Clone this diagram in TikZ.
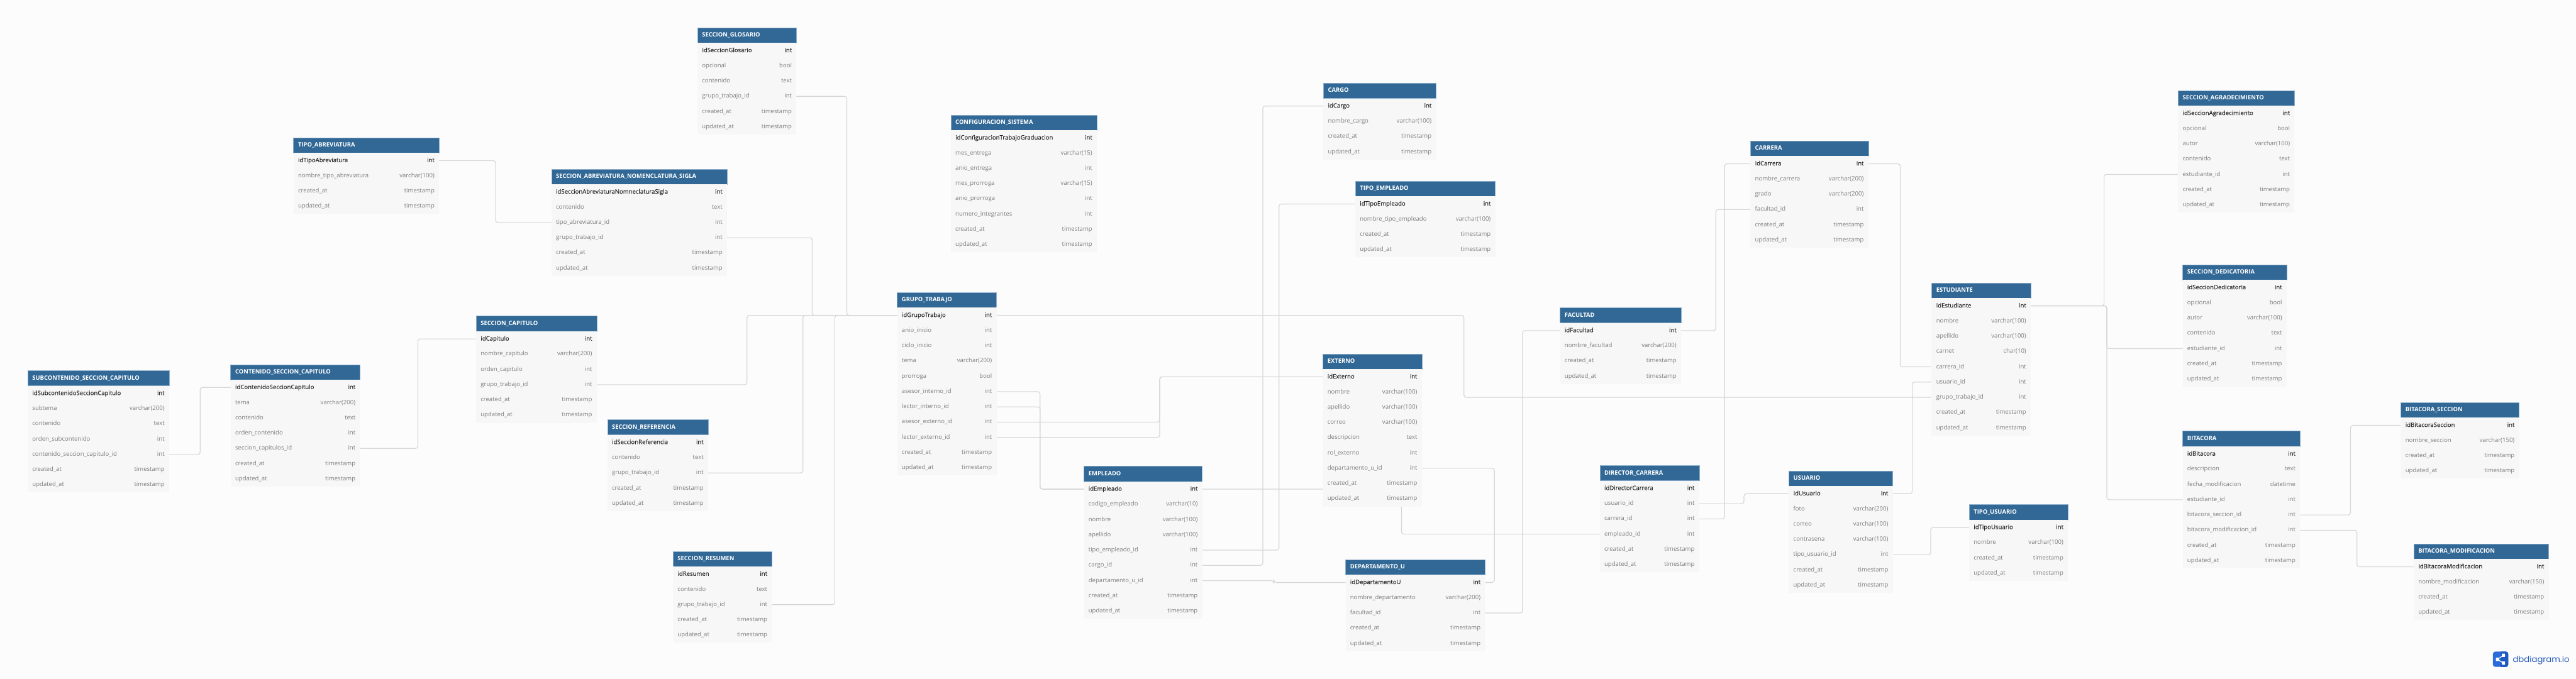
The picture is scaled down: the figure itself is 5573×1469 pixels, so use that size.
\documentclass[tikz,border=0pt]{standalone}
\usepackage{fontspec}
\setmainfont{Open Sans}
\newfontfamily\keyfont[FakeBold=0.2]{Open Sans}
\newfontfamily\logofont{Poppins}
\usepackage{xcolor}
\usepackage{tikz}
\usetikzlibrary{arrows.meta, positioning, backgrounds}
\definecolor{cpage}{RGB}{252,252,252}
\definecolor{chead}{RGB}{49,104,150}
\definecolor{cheadline}{RGB}{140,174,202}
\definecolor{crow}{RGB}{247,247,247}
\definecolor{ckey}{RGB}{40,40,40}
\definecolor{cfield}{RGB}{125,125,125}
\definecolor{clink}{RGB}{214,214,214}
\definecolor{clogo}{RGB}{43,107,220}
\definecolor{clogodark}{RGB}{32,89,192}

%% name, x, y, width, title, fields
\newcommand{\dbtable}[6]{%
  \pgfmathsetmacro{\tblinner}{#4-20}
  \node[tblhead, minimum width=#4pt, text width=\tblinner pt] (#1) at (#2,#3) {#5};
  \foreach \fld/\typ [count=\rowno] in {#6} {
    \node[tblrow, minimum width=#4pt, text width=\tblinner pt,
          at={(#1.south west)}, yshift={-33pt*(\rowno-1)}] (#1-\rowno)
         {\ifnum\rowno=1\color{ckey}\keyfont\fi\fld\hfill\typ};
  }%
}
%% from, to, x of the vertical run
\newcommand{\dblink}[3]{%
  \draw[rel] (#1) -- (#3,0 |- #1) -- (#3,0 |- #2) -- (#2);%
}

\begin{document}
\begin{tikzpicture}[
  x=1pt, y=-1pt,
  tblhead/.style = {rectangle, anchor=north west, fill=chead, draw=cheadline,
                    line width=0.7pt, inner xsep=10pt, inner ysep=0pt, outer sep=0pt,
                    minimum height=33pt, text height=10pt, text depth=3pt,
                    text=white, font=\fontsize{12.8}{15}\selectfont\bfseries},
  tblrow/.style  = {rectangle, anchor=north west, fill=crow,
                    inner xsep=10pt, inner ysep=0pt, outer sep=0pt,
                    minimum height=33pt, text height=10pt, text depth=3pt,
                    text=cfield, font=\fontsize{13}{15}\selectfont},
  rel/.style     = {clink, line width=1.6pt, rounded corners=5pt},
]
\useasboundingbox (0,0) rectangle (5573,1469);

%% --- Tesis sections ---
\dbtable{tipoabrev}{635}{298}{315}{TIPO\_ABREVIATURA}{idTipoAbreviatura/int, nombre\_tipo\_abreviatura/varchar(100), created\_at/timestamp, updated\_at/timestamp}
\dbtable{abrev}{1193}{366}{380}{SECCION\_ABREVIATURA\_NOMENCLATURA\_SIGLA}{idSeccionAbreviaturaNomneclaturaSigla/int, contenido/text, tipo\_abreviatura\_id/int, grupo\_trabajo\_id/int, created\_at/timestamp, updated\_at/timestamp}
\dbtable{glosario}{1509}{60}{214}{SECCION\_GLOSARIO}{idSeccionGlosario/int, opcional/bool, contenido/text, grupo\_trabajo\_id/int, created\_at/timestamp, updated\_at/timestamp}
\dbtable{capitulo}{1030}{684}{261}{SECCION\_CAPITULO}{idCapitulo/int, nombre\_capitulo/varchar(200), orden\_capitulo/int, grupo\_trabajo\_id/int, created\_at/timestamp, updated\_at/timestamp}
\dbtable{contenido}{499}{789}{280}{CONTENIDO\_SECCION\_CAPITULO}{idContenidoSeccionCapitulo/int, tema/varchar(200), contenido/text, orden\_contenido/int, seccion\_capitulos\_id/int, created\_at/timestamp, updated\_at/timestamp}
\dbtable{subcont}{60}{802}{306}{SUBCONTENIDO\_SECCION\_CAPITULO}{idSubcontenidoSeccionCapitulo/int, subtema/varchar(200), contenido/text, orden\_subcontenido/int, contenido\_seccion\_capitulo\_id/int, created\_at/timestamp, updated\_at/timestamp}
\dbtable{referencia}{1314}{908}{218}{SECCION\_REFERENCIA}{idSeccionReferencia/int, contenido/text, grupo\_trabajo\_id/int, created\_at/timestamp, updated\_at/timestamp}
\dbtable{resumen}{1456}{1193}{214}{SECCION\_RESUMEN}{idResumen/int, contenido/text, grupo\_trabajo\_id/int, created\_at/timestamp, updated\_at/timestamp}

%% --- Group and staff ---
\dbtable{config}{2057}{249}{316}{CONFIGURACION\_SISTEMA}{idConfiguracionTrabajoGraduacion/int, mes\_entrega/varchar(15), anio\_entrega/int, mes\_prorroga/varchar(15), anio\_prorroga/int, numero\_integrantes/int, created\_at/timestamp, updated\_at/timestamp}
\dbtable{grupo}{1941}{633}{215}{GRUPO\_TRABAJO}{idGrupoTrabajo/int, anio\_inicio/int, ciclo\_inicio/int, tema/varchar(200), prorroga/bool, asesor\_interno\_id/int, lector\_interno\_id/int, asesor\_externo\_id/int, lector\_externo\_id/int, created\_at/timestamp, updated\_at/timestamp}
\dbtable{empleado}{2345}{1009}{256}{EMPLEADO}{idEmpleado/int, codigo\_empleado/varchar(10), nombre/varchar(100), apellido/varchar(100), tipo\_empleado\_id/int, cargo\_id/int, departamento\_u\_id/int, created\_at/timestamp, updated\_at/timestamp}
\dbtable{cargo}{2863}{180}{244}{CARGO}{idCargo/int, nombre\_cargo/varchar(100), created\_at/timestamp, updated\_at/timestamp}
\dbtable{tipoemp}{2932}{392}{303}{TIPO\_EMPLEADO}{idTipoEmpleado/int, nombre\_tipo\_empleado/varchar(100), created\_at/timestamp, updated\_at/timestamp}
\dbtable{externo}{2862}{766}{214}{EXTERNO}{idExterno/int, nombre/varchar(100), apellido/varchar(100), correo/varchar(100), descripcion/text, rol\_externo/int, departamento\_u\_id/int, created\_at/timestamp, updated\_at/timestamp}
\dbtable{depto}{2911}{1211}{302}{DEPARTAMENTO\_U}{idDepartamentoU/int, nombre\_departamento/varchar(200), facultad\_id/int, created\_at/timestamp, updated\_at/timestamp}

%% --- Faculty and users ---
\dbtable{facultad}{3375}{666}{262}{FACULTAD}{idFacultad/int, nombre\_facultad/varchar(200), created\_at/timestamp, updated\_at/timestamp}
\dbtable{carrera}{3787}{305}{255}{CARRERA}{idCarrera/int, nombre\_carrera/varchar(200), grado/varchar(200), facultad\_id/int, created\_at/timestamp, updated\_at/timestamp}
\dbtable{director}{3461}{1007.5}{215}{DIRECTOR\_CARRERA}{idDirectorCarrera/int, usuario\_id/int, carrera\_id/int, empleado\_id/int, created\_at/timestamp, updated\_at/timestamp}
\dbtable{usuario}{3870}{1019}{225}{USUARIO}{idUsuario/int, foto/varchar(200), correo/varchar(100), contrasena/varchar(100), tipo\_usuario\_id/int, created\_at/timestamp, updated\_at/timestamp}
\dbtable{tipousr}{4260}{1092}{214}{TIPO\_USUARIO}{idTipoUsuario/int, nombre/varchar(100), created\_at/timestamp, updated\_at/timestamp}
\dbtable{estudiante}{4179}{612.5}{214.5}{ESTUDIANTE}{idEstudiante/int, nombre/varchar(100), apellido/varchar(100), carnet/char(10), carrera\_id/int, usuario\_id/int, grupo\_trabajo\_id/int, created\_at/timestamp, updated\_at/timestamp}

%% --- Student sections and log ---
\dbtable{agrad}{4712}{196}{252}{SECCION\_AGRADECIMIENTO}{idSeccionAgradecimiento/int, opcional/bool, autor/varchar(100), contenido/text, estudiante\_id/int, created\_at/timestamp, updated\_at/timestamp}
\dbtable{dedic}{4722}{573}{225}{SECCION\_DEDICATORIA}{idSeccionDedicatoria/int, opcional/bool, autor/varchar(100), contenido/text, estudiante\_id/int, created\_at/timestamp, updated\_at/timestamp}
\dbtable{bitacora}{4722}{933}{254}{BITACORA}{idBitacora/int, descripcion/text, fecha\_modificacion/datetime, estudiante\_id/int, bitacora\_seccion\_id/int, bitacora\_modificacion\_id/int, created\_at/timestamp, updated\_at/timestamp}
\dbtable{bitsec}{5194}{871}{256}{BITACORA\_SECCION}{idBitacoraSeccion/int, nombre\_seccion/varchar(150), created\_at/timestamp, updated\_at/timestamp}
\dbtable{bitmod}{5222}{1177}{292}{BITACORA\_MODIFICACION}{idBitacoraModificacion/int, nombre\_modificacion/varchar(150), created\_at/timestamp, updated\_at/timestamp}

%% --- Logo ---
\node[rectangle, rounded corners=5pt, fill=clogo, minimum size=33pt, inner sep=0pt,
      anchor=north west] (logoicon) at (5393,1410) {};
\fill[clogodark, rounded corners=5pt] (logoicon.north) -- (logoicon.north east)
  -- (logoicon.south east) [sharp corners] -- (logoicon.south) -- cycle;
\coordinate (logoa) at (5403,1427);
\coordinate (logob) at (5416,1418);
\coordinate (logoc) at (5416,1435);
\draw[white, line width=1.6pt] (logob) -- (logoa) -- (logoc);
\foreach \logopt in {logoa, logob, logoc}
  \fill[white, rounded corners=1pt] (\logopt) +(-3.5,-3.5) rectangle +(3.5,3.5);
\node[anchor=base west, inner sep=0pt, text=clogo!85!black,
      font=\logofont\fontsize{18}{20}\selectfont] (logotext) at (5436,1433) {dbdiagram.io};

%% --- Relations ---
\begin{pgfonlayer}{background}
  \fill[cpage] (0,0) rectangle (5573,1469);
  \dblink{tipoabrev-1.east}{abrev-3.west}{1072}
  \dblink{abrev-4.east}{grupo-1.west}{1757}
  \dblink{glosario-4.east}{grupo-1.west}{1832}
  \dblink{capitulo-4.east}{grupo-1.west}{1616}
  \dblink{referencia-3.east}{grupo-1.west}{1737}
  \dblink{resumen-3.east}{grupo-1.west}{1806}
  \dblink{contenido-5.east}{capitulo-1.west}{904}
  \dblink{subcont-5.east}{contenido-1.west}{433}
  \dblink{grupo-6.east}{empleado-1.west}{2250}
  \dblink{grupo-7.east}{empleado-1.west}{2250}
  \dblink{grupo-8.east}{externo-1.west}{2509}
  \dblink{grupo-9.east}{externo-1.west}{2509}
  \dblink{empleado-5.east}{tipoemp-1.west}{2767}
  \dblink{empleado-6.east}{cargo-1.west}{2732}
  \dblink{empleado-7.east}{depto-1.west}{2756}
  \dblink{empleado-1.east}{director-4.west}{3032}
  \dblink{externo-7.east}{depto-1.east}{3233}
  \dblink{grupo-1.east}{estudiante-7.west}{3167}
  \dblink{depto-3.east}{facultad-1.west}{3294}
  \dblink{facultad-1.east}{carrera-4.west}{3712}
  \dblink{carrera-1.west}{director-3.east}{3731}
  \dblink{carrera-1.east}{estudiante-5.west}{4111}
  \dblink{usuario-1.east}{estudiante-6.west}{4137}
  \dblink{usuario-1.west}{director-2.east}{3773}
  \dblink{usuario-5.east}{tipousr-1.west}{4177}
  \dblink{estudiante-1.east}{agrad-5.west}{4552}
  \dblink{estudiante-1.east}{dedic-5.west}{4558}
  \dblink{estudiante-1.east}{bitacora-4.west}{4558}
  \dblink{bitacora-5.east}{bitsec-1.west}{5085}
  \dblink{bitacora-6.east}{bitmod-1.west}{5099}
\end{pgfonlayer}

\end{tikzpicture}
\end{document}
